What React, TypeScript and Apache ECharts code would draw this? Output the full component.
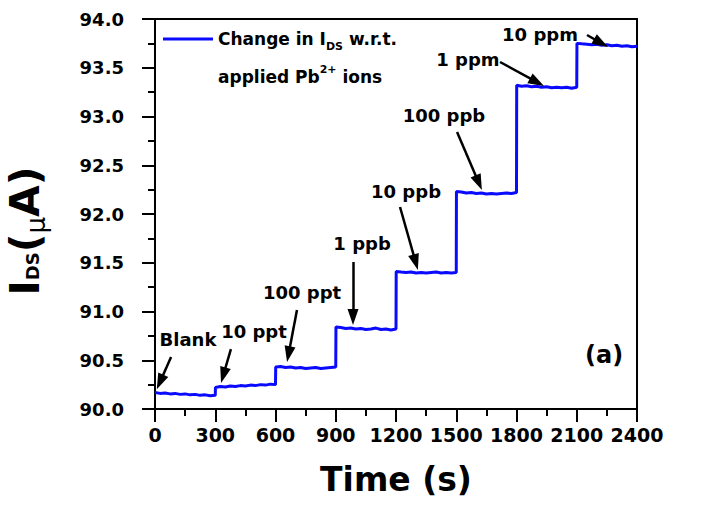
import React, { useEffect, useRef } from "react";
import * as echarts from "echarts";

const FONT = "DejaVu Sans";

const xTicks = { min: 0, max: 2400, interval: 300 };
const yTicks = { min: 90, max: 94, interval: 0.5 };

// sample offsets inside each 300 s exposure window
const sampleOffsets = [1, 25, 50, 75, 100, 125, 150, 175, 200, 225, 250, 275, 300];

const blank = [90.17, 90.16, 90.165, 90.155, 90.16, 90.15, 90.155, 90.145, 90.15, 90.14, 90.145, 90.135, 90.14];
const ppt10 = [90.22, 90.23, 90.225, 90.235, 90.23, 90.24, 90.235, 90.245, 90.24, 90.25, 90.245, 90.255, 90.25];
const ppt100 = [90.43, 90.435, 90.425, 90.43, 90.42, 90.425, 90.415, 90.42, 90.425, 90.415, 90.42, 90.425, 90.43];
const ppb1 = [90.84, 90.835, 90.825, 90.83, 90.82, 90.825, 90.815, 90.82, 90.83, 90.815, 90.82, 90.81, 90.82];
const ppb10 = [91.41, 91.405, 91.4, 91.405, 91.395, 91.4, 91.395, 91.4, 91.405, 91.395, 91.4, 91.395, 91.4];
const ppb100 = [92.23, 92.225, 92.215, 92.22, 92.21, 92.215, 92.205, 92.21, 92.205, 92.21, 92.215, 92.21, 92.22];
const ppm1 = [93.32, 93.31, 93.315, 93.305, 93.31, 93.3, 93.305, 93.295, 93.3, 93.295, 93.3, 93.29, 93.3];
const ppm10 = [93.75, 93.745, 93.74, 93.735, 93.74, 93.73, 93.735, 93.725, 93.73, 93.72, 93.725, 93.715, 93.72];

const segments = [blank, ppt10, ppt100, ppb1, ppb10, ppb100, ppm1, ppm10];

// annotation labels
const labelNames = ["Blank", "10 ppt", "100 ppt", "1 ppb", "10 ppb", "100 ppb", "1 ppm", "10 ppm"];
const labelTimes = [164, 493, 732, 1031, 1250, 1439, 1558, 1917];
const labelValues = [90.708, 90.79, 91.19, 91.7, 92.226, 93.015, 93.58, 93.846];

// arrows: start (t, I) -> end (t, I)
const arrowStartT = [80, 378, 707, 986, 1220, 1504, 1718, 2151];
const arrowStartV = [90.533, 90.615, 91.015, 91.508, 92.072, 92.841, 93.559, 93.836];
const arrowEndT = [25, 340, 665, 986, 1298, 1612, 1902, 2221];
const arrowEndV = [90.277, 90.346, 90.562, 90.944, 91.505, 92.321, 93.352, 93.754];

const seriesName = "Change in IDS w.r.t. applied Pb2+ ions";

export default function App() {
  const ref = useRef<HTMLDivElement>(null);

  useEffect(() => {
    if (!ref.current) return;
    const chart = echarts.init(ref.current, null, { renderer: "svg" });

    const data: number[][] = [];
    segments.forEach((seg, i) => {
      seg.forEach((v, j) => {
        data.push([i * 300 + sampleOffsets[j], v]);
      });
    });
    data[0][0] = 0;

    const markPoints = labelNames.map((n, i) => ({
      name: n,
      coord: [labelTimes[i], labelValues[i]],
    }));

    const markLines = arrowStartT.map((t, i) => [
      { coord: [t, arrowStartV[i]], symbol: "none" },
      { coord: [arrowEndT[i], arrowEndV[i]], symbol: "triangle", symbolSize: [11, 16] },
    ]);

    const axisCommon = {
      axisLine: { show: true, lineStyle: { color: "#000", width: 2 } },
      axisTick: { show: true, inside: false, length: 13, lineStyle: { color: "#000", width: 2 } },
      minorTick: { show: true, splitNumber: 2, length: 7, lineStyle: { color: "#000", width: 2 } },
      splitLine: { show: false },
      minorSplitLine: { show: false },
    };

    chart.setOption({
      animation: false,
      backgroundColor: "#fff",
      grid: {
        left: 155,
        top: 19,
        right: 66,
        bottom: 97,
        containLabel: false,
        outerBoundsMode: "none",
        show: true,
        borderColor: "#000",
        borderWidth: 2,
        backgroundColor: "transparent",
      },
      legend: {
        show: true,
        left: 163,
        top: 20,
        padding: 0,
        itemWidth: 50,
        itemHeight: 41,
        icon: "path://M0,0H50V3H0Z M0,40.9H0.1V41H0Z",
        data: [seriesName],
        formatter: () =>
          "{a|Change in I}{sub|DS}{a| w.r.t.}\n{a|applied Pb}{sup|2+}{a| ions}",
        textStyle: {
          color: "#000",
          fontFamily: FONT,
          fontWeight: "bold",
          fontSize: 17,
          lineHeight: 38,
          rich: {
            a: { color: "#000", fontFamily: FONT, fontWeight: "bold", fontSize: 17, lineHeight: 38 },
            sub: { color: "#000", fontFamily: FONT, fontWeight: "bold", fontSize: 11, lineHeight: 38, verticalAlign: "middle", padding: [14, 0, 0, 0] },
            sup: { color: "#000", fontFamily: FONT, fontWeight: "bold", fontSize: 11, lineHeight: 38, verticalAlign: "middle", padding: [0, 0, 16, 0] },
          },
        },
      },
      xAxis: {
        type: "value",
        min: xTicks.min,
        max: xTicks.max,
        interval: xTicks.interval,
        name: "Time (s)",
        nameLocation: "middle",
        nameGap: 54,
        nameTextStyle: { color: "#000", fontFamily: FONT, fontWeight: "bold", fontSize: 33 },
        axisLabel: {
          color: "#000",
          fontFamily: FONT,
          fontWeight: "bold",
          fontSize: 19,
          margin: 16,
          showMaxLabel: true,
          showMinLabel: true,
          formatter: (v: number) => String(v),
        },
        ...axisCommon,
      },
      yAxis: {
        type: "value",
        min: yTicks.min,
        max: yTicks.max,
        interval: yTicks.interval,
        name: "{a|I}{sub|DS}{a|(}{mu|μ}{a|A)}",
        nameLocation: "middle",
        nameGap: 106,
        nameTextStyle: {
          color: "#000",
          fontFamily: FONT,
          fontWeight: "bold",
          fontSize: 41,
          padding: [0, 34, 0, 0],
          rich: {
            a: { color: "#000", fontFamily: FONT, fontWeight: "bold", fontSize: 41, lineHeight: 48 },
            sub: { color: "#000", fontFamily: FONT, fontWeight: "bold", fontSize: 18, lineHeight: 48, verticalAlign: "middle", padding: [15, 0, 0, 0] },
            mu: { color: "#000", fontFamily: FONT, fontWeight: "normal", fontSize: 26, lineHeight: 40, verticalAlign: "bottom" },
          },
        },
        axisLabel: {
          color: "#000",
          fontFamily: FONT,
          fontWeight: "bold",
          fontSize: 18,
          margin: 31,
          formatter: (v: number) => v.toFixed(1),
        },
        ...axisCommon,
      },
      series: [
        {
          name: seriesName,
          type: "line",
          data,
          showSymbol: false,
          symbol: "none",
          lineStyle: { color: "#0a0aff", width: 3 },
          itemStyle: { color: "#0a0aff" },
          markPoint: {
            symbol: "circle",
            symbolSize: 1,
            itemStyle: { color: "rgba(0,0,0,0)" },
            label: {
              show: true,
              position: "inside",
              formatter: "{b}",
              color: "#000",
              fontFamily: FONT,
              fontWeight: "bold",
              fontSize: 18,
            },
            data: markPoints,
          },
          markLine: {
            silent: true,
            symbol: ["none", "triangle"],
            lineStyle: { color: "#000", width: 2.5, type: "solid" },
            itemStyle: { color: "#000" },
            label: { show: false },
            emphasis: { disabled: true },
            data: markLines,
          },
        },
      ],
      graphic: [
        {
          type: "text",
          left: 585,
          top: 343,
          style: {
            text: "(a)",
            fill: "#000",
            font: `bold 24px "${FONT}"`,
          },
        },
      ],
    });

    return () => chart.dispose();
  }, []);

  return (
    <div
      ref={ref}
      style={{ position: "fixed", left: 0, top: 0, width: 703, height: 506, background: "#fff" }}
    />
  );
}
